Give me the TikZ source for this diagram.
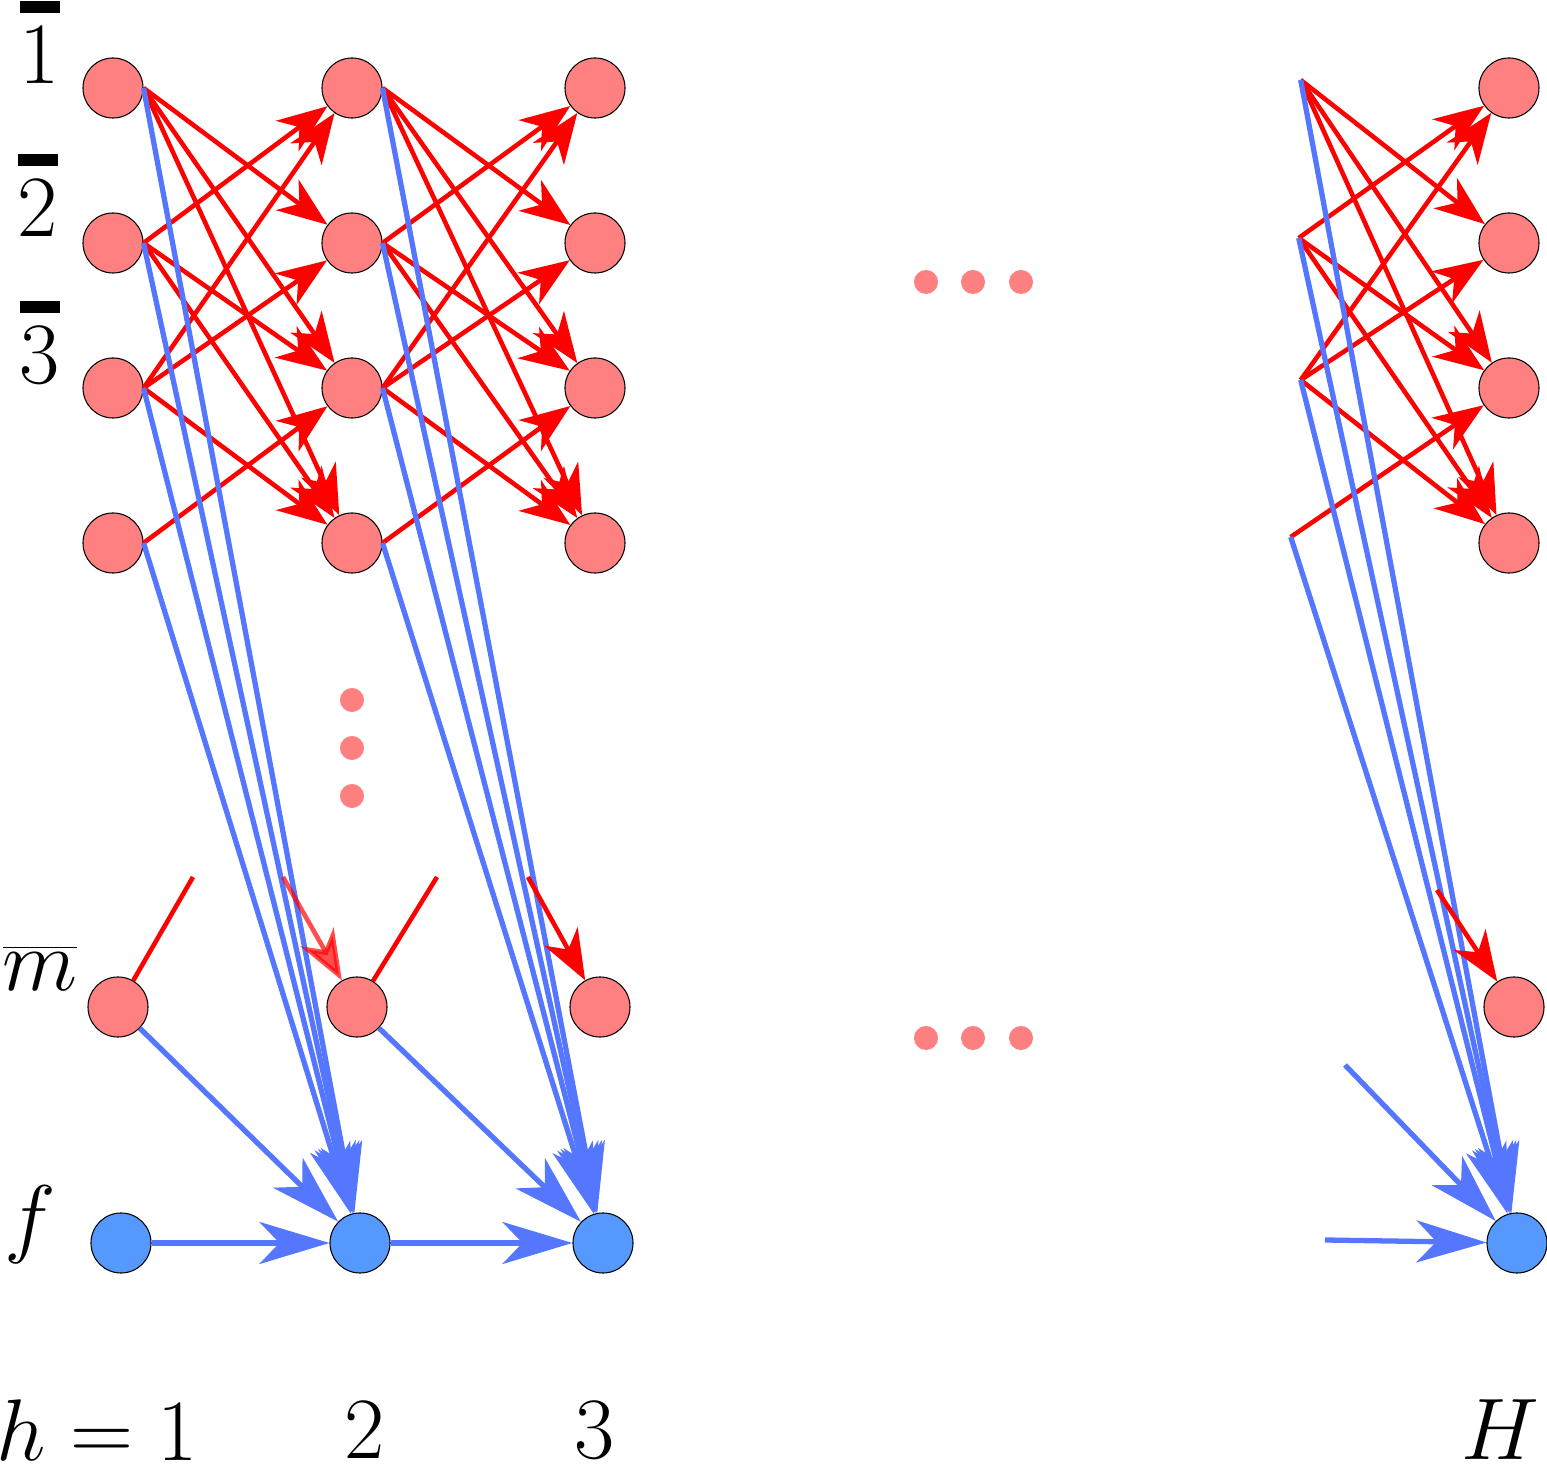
\documentclass[tikz,border=0pt]{standalone}
\usetikzlibrary{arrows.meta}
\newcommand{\tbar}[1]{\vbox{\hrule height 3.5pt \kern 4pt \hbox{$#1$}}}
\begin{document}
\begin{tikzpicture}[x=0.01cm,y=-0.01cm,
  pn/.style={circle,draw=black,line width=0.3pt,fill=pink1,minimum size=0.6cm,inner sep=0pt},
  fn/.style={circle,draw=black,line width=0.3pt,fill=blue1,minimum size=0.6cm,inner sep=0pt},
  dotn/.style={circle,fill=pink1,minimum size=0.24cm,inner sep=0pt},
  red/.style={draw={rgb,255:red,255;green,0;blue,0},line width=1.3pt,-{Stealth[length=0.5cm,width=0.38cm,inset=0.15cm]}},
  redl/.style={draw={rgb,255:red,255;green,0;blue,0},line width=1.3pt},
  blu/.style={draw=blue2,line width=1.5pt,-{Stealth[length=0.7cm,width=0.42cm,inset=0.2cm]}},
  lab/.style={font=\fontsize{34}{40}\selectfont}]
\definecolor{pink1}{RGB}{255,128,128}
\definecolor{blue1}{RGB}{85,153,255}
\definecolor{blue2}{RGB}{85,119,255}
\useasboundingbox (0,0) rectangle (1547,1464);
% nodes
\foreach \c/\x in {a/113,b/352,c/595,e/1509}{
  \node[pn] (\c1) at (\x,88) {};
  \node[pn] (\c2) at (\x,243) {};
  \node[pn] (\c3) at (\x,388) {};
  \node[pn] (\c4) at (\x,543) {};
  \node[pn] (\c m) at (\x+5,1007) {};
  \node[fn] (\c f) at (\x+8,1243) {};
}
\node[inner sep=0pt,minimum size=0pt] (d1) at (1300,80) {};
\node[inner sep=0pt,minimum size=0pt] (d2) at (1298,238) {};
\node[inner sep=0pt,minimum size=0pt] (d3) at (1300,380) {};
\node[inner sep=0pt,minimum size=0pt] (d4) at (1290,537) {};
% red edges
\foreach \s/\t in {a/b,b/c,d/e}{
  \foreach \i/\j in {1/2,1/3,1/4,2/1,2/3,2/4,3/1,3/2,3/4,4/3}{
    \draw[red] (\s\i.east) -- (\t\j);
  }
}
% blue edges
\foreach \s/\t in {a/b,b/c,d/e}{
  \foreach \i in {1,2,3,4}{ \draw[blu] (\s\i.east) -- (\t f); }
}
\draw[blu] (am) -- (bf);
\draw[blu] (bm) -- (cf);
\coordinate (dm) at (1345,1065);
\draw[blu] (dm) -- (ef);
\draw[blu] (af) -- (bf);
\draw[blu] (bf) -- (cf);
\coordinate (dfx) at (1325,1240);
\draw[blu] (dfx) -- (ef);
% partial red near m
\coordinate (u1) at (193,877); \draw[redl] (am) -- (u1);
\coordinate (u2) at (437,877); \draw[redl] (bm) -- (u2);
\coordinate (v1) at (283,877); \draw[red,opacity=0.7] (v1) -- (bm);
\coordinate (v2) at (528,877); \draw[red] (v2) -- (cm);
\coordinate (v3) at (1437,890); \draw[red] (v3) -- (em);
% dots
\node[dotn] (k1) at (352,700) {}; \node[dotn] (k2) at (352,748) {}; \node[dotn] (k3) at (352,796) {};
\node[dotn] (h1) at (926,282) {}; \node[dotn] (h2) at (973,282) {}; \node[dotn] (h3) at (1021,282) {};
\node[dotn] (g1) at (926,1038) {}; \node[dotn] (g2) at (973,1038) {}; \node[dotn] (g3) at (1021,1038) {};
% labels
\node[lab] (l1) at (40,42) {\tbar{1}};
\node[lab] (l2) at (38,195) {\tbar{2}};
\node[lab] (l3) at (40,342) {\tbar{3}};
\node[lab] (lm) at (40,968) {$\overline{m}$};
\node[lab] (lf) at (30,1225) {$f$};
\node[lab] (b1) at (97,1430) {$h=1$};
\node[lab] (b2) at (365,1430) {$2$};
\node[lab] (b3) at (595,1430) {$3$};
\node[lab] (bH) at (1500,1430) {$H$};
\end{tikzpicture}
\end{document}
